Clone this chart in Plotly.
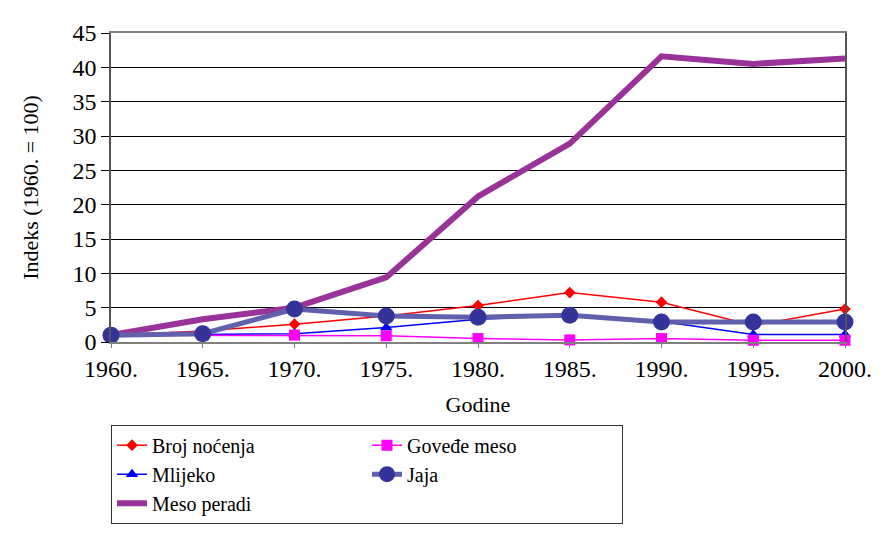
import plotly.graph_objects as go

years = [1960, 1965, 1970, 1975, 1980, 1985, 1990, 1995, 2000]
year_labels = ["1960.", "1965.", "1970.", "1975.", "1980.", "1985.", "1990.", "1995.", "2000."]
y_ticks = [0, 5, 10, 15, 20, 25, 30, 35, 40, 45]

broj_nocenja = [1.0, 1.6, 2.6, 3.8, 5.3, 7.2, 5.8, 2.4, 4.8]
govedje_meso = [1.0, 1.0, 1.0, 0.9, 0.5, 0.3, 0.5, 0.25, 0.25]
mlijeko = [1.0, 1.1, 1.2, 2.1, 3.3, 3.9, 3.0, 1.1, 1.1]
jaja = [1.0, 1.2, 4.8, 3.8, 3.6, 3.9, 2.9, 2.9, 2.9]
meso_peradi = [1.0, 3.3, 5.0, 9.4, 21.2, 28.9, 41.6, 40.5, 41.3]

FONT = "Liberation Serif"
OFF = 8  # page body margin
W, H = 884 - OFF, 536 - OFF
L, R, T, B = 111, 854, 22, 366  # target pixel positions in the window


def py(y):
    return (B - y) / (B - T)


fig = go.Figure()

fig.add_trace(go.Scatter(x=years, y=meso_peradi, name="Meso peradi", mode="lines", legendrank=5,
                         line=dict(color="#993399", width=6), cliponaxis=False))
fig.add_trace(go.Scatter(x=years, y=broj_nocenja, name="Broj noćenja", mode="lines+markers", legendrank=1,
                         line=dict(color="#FF0000", width=1.5),
                         marker=dict(symbol="diamond", size=9, color="#FF0000"), cliponaxis=False))
fig.add_trace(go.Scatter(x=years, y=mlijeko, name="Mlijeko", mode="lines+markers", legendrank=3,
                         line=dict(color="#0000FF", width=1.5),
                         marker=dict(symbol="triangle-up", size=11, color="#0000FF"), cliponaxis=False))
fig.add_trace(go.Scatter(x=years, y=govedje_meso, name="Goveđe meso", mode="lines+markers", legendrank=2,
                         line=dict(color="#FF00FF", width=1.5),
                         marker=dict(symbol="square", size=11, color="#FF00FF"), cliponaxis=False))
fig.add_trace(go.Scatter(x=years, y=jaja, name="Jaja", mode="lines+markers", legendrank=4,
                         line=dict(color="#6060AC", width=5),
                         marker=dict(symbol="circle", size=17, color="#333399"), cliponaxis=False))

fig.update_layout(
    width=W, height=H,
    margin=dict(l=L - OFF, r=W - (R - OFF), t=T - OFF, b=H - (B - OFF)),
    plot_bgcolor="white", paper_bgcolor="white",
    showlegend=True,
    legend=dict(orientation="h", x=0, y=py(458), xanchor="left", yanchor="top",
                entrywidth=210, entrywidthmode="pixels", tracegroupgap=0,
                bordercolor="#333333", borderwidth=1, bgcolor="white",
                font=dict(family=FONT, size=20, color="black")),
    xaxis=dict(range=[1960, 2000], tickvals=years, ticktext=year_labels,
               showgrid=False, zeroline=False, showline=True, linecolor="#808080", linewidth=1.5,
               mirror=True, ticks="outside", ticklen=4, tickcolor="#808080",
               tickfont=dict(family=FONT, size=24, color="black"),
               title=dict(text="Godine", standoff=16, font=dict(family=FONT, size=22, color="black"))),
    yaxis=dict(range=[0, 45], tickvals=y_ticks, showgrid=True, gridcolor="black", gridwidth=1,
               zeroline=False, showline=True, linecolor="#555555", linewidth=1.5, mirror=True,
               ticks="outside", ticklen=8, tickcolor="black", ticksuffix="\u00a0\u00a0",
               tickfont=dict(family=FONT, size=24, color="black"),
               title=dict(text="Indeks (1960. = 100)", standoff=28,
                          font=dict(family=FONT, size=22, color="black"))),
)

fig.write_html("out.html")
